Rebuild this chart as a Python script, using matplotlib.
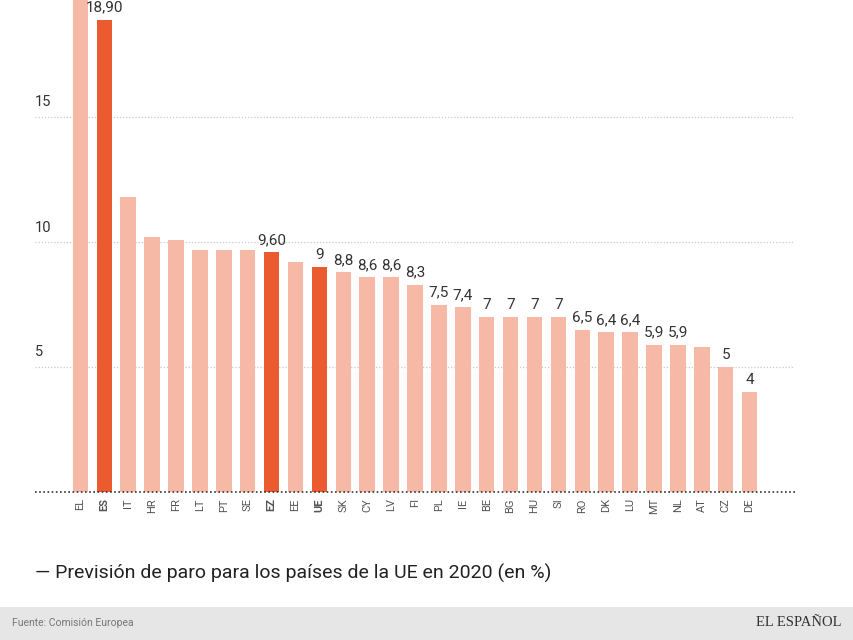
import matplotlib
matplotlib.use("Agg")
import matplotlib.pyplot as plt
from matplotlib.patches import Rectangle

countries = ["EL", "ES", "IT", "HR", "FR", "LT", "PT", "SE", "EZ", "EE", "UE", "SK", "CY", "LV", "FI",
             "PL", "IE", "BE", "BG", "HU", "SI", "RO", "DK", "LU", "MT", "NL", "AT", "CZ", "DE"]
values = [19.9, 18.9, 11.8, 10.2, 10.1, 9.7, 9.7, 9.7, 9.6, 9.2, 9.0, 8.8, 8.6, 8.6, 8.3,
          7.5, 7.4, 7.0, 7.0, 7.0, 7.0, 6.5, 6.4, 6.4, 5.9, 5.9, 5.8, 5.0, 4.0]
value_labels = ["", "18,90", "", "", "", "", "", "", "9,60", "", "9", "8,8", "8,6", "8,6", "8,3",
                "7,5", "7,4", "7", "7", "7", "7", "6,5", "6,4", "6,4", "5,9", "5,9", "", "5", "4"]
highlight = ["ES", "EZ", "UE"]
yticks = [5, 10, 15]

title = "\u2014 Previsión de paro para los países de la UE en 2020 (en %)"
source = "Fuente: Comisión Europea"
brand = "EL ESPAÑOL"

W, H = 854, 640
fig = plt.figure(figsize=(W / 100, H / 100), dpi=100)
fig.patch.set_facecolor("white")

ax = fig.add_axes([35 / W, 1 - 492 / H, (795 - 35) / W, 492 / H])
ax.set_facecolor("none")
x = list(range(len(countries)))
light = "#F5B9A6"
strong = "#EC5A30"
colors = [strong if c in highlight else light for c in countries]
ax.bar(x, values, width=0.65, color=colors, zorder=2)
ax.set_xlim(-1.9, 29.9)
ax.set_ylim(0, 19.68)

for t in yticks:
    ax.axhline(t, color="#C8C8C8", lw=0.9, ls=(0, (1, 1.5)), zorder=1)
    ax.text(-1.9, t + 0.3, str(t), ha="left", va="bottom", fontsize=10.5,
            color="#333333", family="Roboto")
ax.axhline(0, color="#333333", lw=1.2, ls=(0, (1, 1.5)), zorder=3, clip_on=False)

for xi, v, lab in zip(x, values, value_labels):
    if lab:
        ax.text(xi, v + 0.2, lab, ha="center", va="bottom", fontsize=11,
                color="#333333", family="Roboto")

for xi, c in zip(x, countries):
    ax.text(xi, -0.25, c, rotation=90, ha="center", va="top", fontsize=8,
            color="#555555", family="Roboto",
            fontweight="bold" if c in highlight else "normal")

for s in ax.spines.values():
    s.set_visible(False)
ax.set_xticks([])
ax.set_yticks([])

fig.text(35 / W, 1 - 573 / H, title, ha="left", va="center", fontsize=14,
         color="#222222", family="Roboto")

fig.patches.append(Rectangle((0, 0), 1, 33 / H, transform=fig.transFigure,
                             facecolor="#E6E6E6", edgecolor="none", zorder=0))
fig.text(12 / W, 1 - 623 / H, source, ha="left", va="center", fontsize=7.5,
         color="#777777", family="Roboto")
fig.text(842 / W, 1 - 623 / H, brand, ha="right", va="center", fontsize=10.5,
         color="#333333", family="Liberation Serif")

fig.savefig("out.png", dpi=100)
